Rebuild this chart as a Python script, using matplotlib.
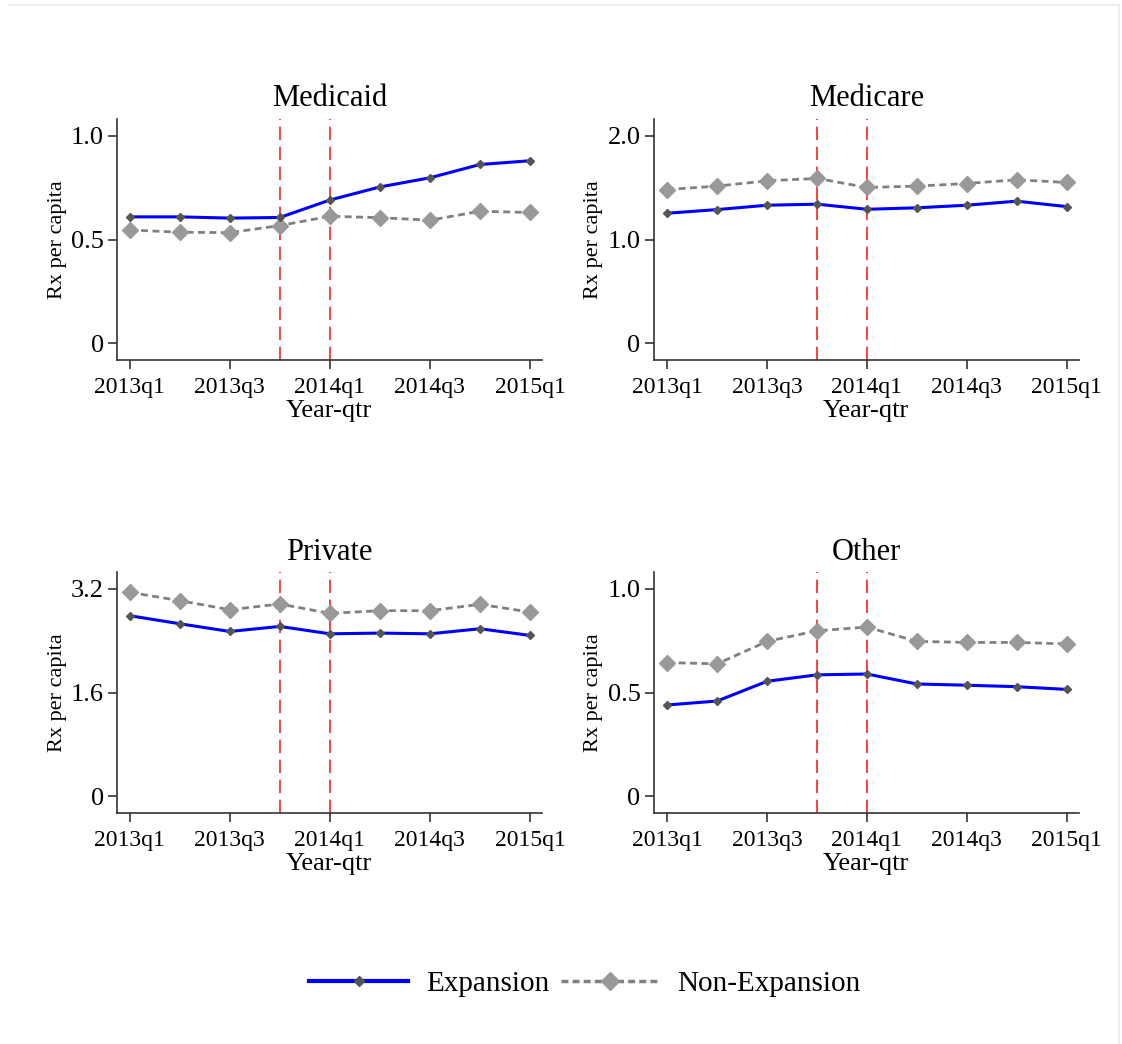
import matplotlib
matplotlib.use("Agg")
import matplotlib.pyplot as plt
from matplotlib.lines import Line2D

plt.rcParams['font.family'] = ['Liberation Serif', 'DejaVu Serif']

quarters = ["2013q1", "2013q2", "2013q3", "2013q4", "2014q1", "2014q2", "2014q3", "2014q4", "2015q1"]
tick_labels = ["2013q1", "2013q3", "2014q1", "2014q3", "2015q1"]

medicaid_exp = [0.609, 0.609, 0.603, 0.606, 0.690, 0.753, 0.797, 0.861, 0.879]
medicaid_non = [0.546, 0.535, 0.533, 0.567, 0.612, 0.605, 0.593, 0.636, 0.630]
medicare_exp = [1.253, 1.288, 1.330, 1.340, 1.291, 1.305, 1.330, 1.369, 1.317]
medicare_non = [1.481, 1.514, 1.565, 1.588, 1.501, 1.514, 1.539, 1.575, 1.549]
private_exp = [2.783, 2.659, 2.540, 2.618, 2.504, 2.515, 2.504, 2.582, 2.479]
private_non = [3.143, 3.015, 2.875, 2.963, 2.819, 2.860, 2.860, 2.958, 2.839]
other_exp = [0.440, 0.459, 0.554, 0.585, 0.589, 0.541, 0.535, 0.528, 0.515]
other_non = [0.644, 0.638, 0.746, 0.797, 0.815, 0.746, 0.741, 0.741, 0.734]

titles = ["Medicaid", "Medicare", "Private", "Other"]
yticks = [[0, 0.5, 1.0], [0, 1.0, 2.0], [0, 1.6, 3.2], [0, 0.5, 1.0]]
yticklabels = [["0", "0.5", "1.0"], ["0", "1.0", "2.0"], ["0", "1.6", "3.2"], ["0", "0.5", "1.0"]]
ylims = [(-0.08, 1.08), (-0.16, 2.16), (-0.256, 3.456), (-0.08, 1.08)]
exp_series = [medicaid_exp, medicare_exp, private_exp, other_exp]
non_series = [medicaid_non, medicare_non, private_non, other_non]
policy_lines = ["2013q4", "2014q1"]

W, H = 1122, 1044
fig = plt.figure(figsize=(W / 100, H / 100), dpi=100)
fig.patch.set_facecolor('white')

# axes boxes in pixels: (left, top, right, bottom)
boxes = [(117, 119, 541.7, 360), (653.7, 119, 1079, 360),
         (117, 572, 541.7, 813), (653.7, 572, 1079, 813)]
xlims = [(-0.254, 8.234), (-0.272, 8.25), (-0.254, 8.234), (-0.272, 8.25)]

x = list(range(len(quarters)))
for i in range(4):
    l, t, r, b = boxes[i]
    ax = fig.add_axes([l / W, 1 - b / H, (r - l) / W, (b - t) / H])
    for s in ['top', 'right']:
        ax.spines[s].set_visible(False)
    for s in ['left', 'bottom']:
        ax.spines[s].set_linewidth(1.2)
        ax.spines[s].set_color('#333333')
    for q in policy_lines:
        ax.axvline(quarters.index(q), color='#ff2020', lw=1.2, linestyle=(0, (8, 4)), zorder=1)
    ax.plot(x, non_series[i], color='#808080', lw=2.0, linestyle=(0, (2.5, 1.6)),
            marker='D', ms=8, mfc='#999999', mec='#999999', zorder=2)
    ax.plot(x, exp_series[i], color='#0000ff', lw=2.2, linestyle='-',
            marker='D', ms=4.5, mfc='#555555', mec='#555555', zorder=3)
    ax.set_xlim(*xlims[i])
    ax.set_ylim(*ylims[i])
    ax.set_xticks([quarters.index(q) for q in tick_labels])
    ax.set_xticklabels(tick_labels, fontsize=17)
    ax.set_yticks(yticks[i])
    ax.set_yticklabels(yticklabels[i], fontsize=19)
    ax.tick_params(axis='both', direction='out', length=6.5, width=1.2, color='#333333')
    ax.tick_params(axis='x', pad=5.5)
    ax.tick_params(axis='y', pad=3)
    ax.set_title(titles[i], fontsize=22, pad=9)
    ax.set_xlabel("Year-qtr", fontsize=19, labelpad=2)
    ax.set_ylabel("Rx per capita", fontsize=16, labelpad=3)

handles = [
    Line2D([], [], color='#0000ff', lw=3, marker='D', ms=5, mfc='#555555', mec='#555555'),
    Line2D([], [], color='#808080', lw=2.5, linestyle=(0, (2, 1.2)), marker='D', ms=9,
           mfc='#999999', mec='#999999'),
]
fig.legend(handles, ["Expansion", "Non-Expansion"], loc='center', bbox_to_anchor=(585 / W, 1 - 984 / H),
           ncol=2, frameon=False, fontsize=21, handlelength=3.4, handletextpad=0.6,
           columnspacing=0.4)

# faint frame of the original image
fig.add_artist(Line2D([8 / W, 1119 / W], [1 - 5 / H, 1 - 5 / H], color='#e6ecef', lw=1.2))
fig.add_artist(Line2D([1119 / W, 1119 / W], [1 - 5 / H, 0], color='#e6ecef', lw=1.2))

fig.savefig("out.png", dpi=100, facecolor='white')
